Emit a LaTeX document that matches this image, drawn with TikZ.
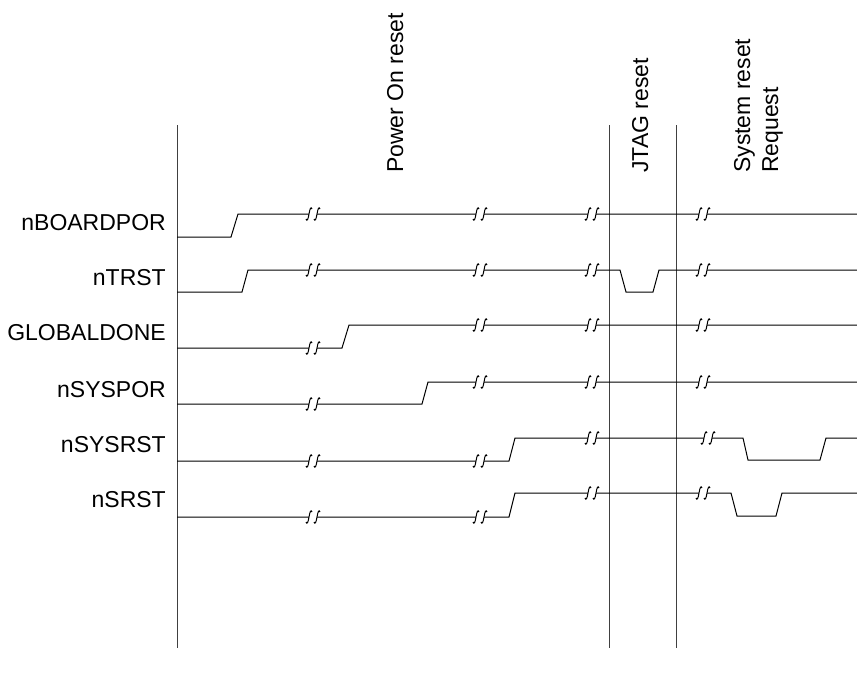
\documentclass[tikz,border=0pt]{standalone}
\usepackage{fontspec}
\setmainfont{Liberation Sans}
\usetikzlibrary{positioning}

\begin{document}
\begin{tikzpicture}[
    x=1pt, y=-1pt,
    sig/.style={draw, line width=1pt, black},
    phase/.style={draw, line width=1pt, black!75},
    lbl/.style={anchor=east, inner sep=0pt, font=\fontsize{23}{28}\selectfont},
    hdr/.style={rotate=90, inner sep=0pt, align=left, font=\fontsize{23}{28}\selectfont},
    brk/.pic={
        \fill[white] (-4,-2) rectangle (4,2);
        \foreach \d in {-4,4}
            \draw[line width=1pt, xshift=\d] (-3,5) .. controls (-2,7.5) and (-1,6) .. (0,0)
                .. controls (1,-6) and (2,-7.5) .. (3,-5);
    }
]
\useasboundingbox (0,0) rectangle (857,678);

% phase boundaries
\draw[phase] (177,125) -- (177,648);
\draw[phase] (609,125) -- (609,648);
\draw[phase] (676,125) -- (676,648);

\node[hdr, anchor=base west] (por) at (403,173) {Power On reset};
\node[hdr, anchor=base west] (jtag) at (648,173) {JTAG reset};
\node[hdr, anchor=south west] (sysreq) at (783,173) {System reset\\Request};

% nBOARDPOR
\node[lbl] (boardpor) at (166,223) {nBOARDPOR};
\draw[sig] (177,237) -- (231,237) -- (238,214) -- (857,214);
\foreach \x in {313,480,592,703} \pic at (\x,214) {brk};

% nTRST
\node[lbl] (trst) at (166,278) {nTRST};
\draw[sig] (177,292) -- (242,292) -- (248,270) -- (620,270) -- (626,292)
    -- (653,292) -- (659,270) -- (857,270);
\foreach \x in {313,480,592,703} \pic at (\x,270) {brk};

% GLOBALDONE
\node[lbl] (globaldone) at (166,333) {GLOBALDONE};
\draw[sig] (177,348) -- (342,348) -- (349,325) -- (857,325);
\pic at (313,348) {brk};
\foreach \x in {480,592,703} \pic at (\x,325) {brk};

% nSYSPOR
\node[lbl] (syspor) at (166,390) {nSYSPOR};
\draw[sig] (177,404) -- (422,404) -- (428,382) -- (857,382);
\pic at (313,404) {brk};
\foreach \x in {480,592,703} \pic at (\x,382) {brk};

% nSYSRST
\node[lbl] (sysrst) at (166,445) {nSYSRST};
\draw[sig] (177,461) -- (509,461) -- (515,438) -- (743,438) -- (748,460)
    -- (820,460) -- (826,438) -- (857,438);
\foreach \x in {313,480} \pic at (\x,461) {brk};
\foreach \x in {592,708} \pic at (\x,438) {brk};

% nSRST
\node[lbl] (srst) at (166,500) {nSRST};
\draw[sig] (177,517) -- (509,517) -- (515,493) -- (731,493) -- (737,516)
    -- (776,516) -- (782,493) -- (857,493);
\foreach \x in {313,480} \pic at (\x,517) {brk};
\foreach \x in {592,703} \pic at (\x,493) {brk};

\end{tikzpicture}
\end{document}
